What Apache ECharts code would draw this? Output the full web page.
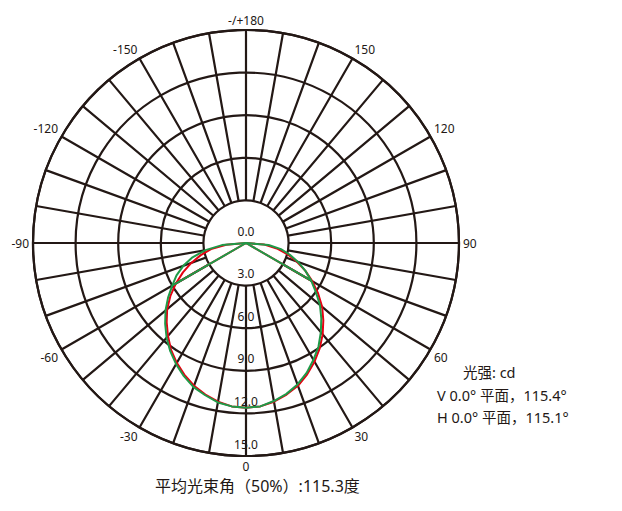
<!DOCTYPE html>
<html>
<head>
<meta charset="utf-8">
<script src="https://cdn.jsdelivr.net/npm/echarts/dist/echarts.min.js"></script>
<style>
html,body{margin:0;padding:0;background:#fff;}
#chart{width:622px;height:511px;}
</style>
</head>
<body>
<div id="chart"></div>
<script>
// ---- data ----
const angles = [-90,-85,-80,-75,-70,-65,-60,-55,-50,-45,-40,-35,-30,-25,-20,-15,-10,-5,0,5,10,15,20,25,30,35,40,45,50,55,60,65,70,75,80,85,90];
// V 0.0° plane (red), cd
const vPlane = [0,1.4,2.5,3.3,4.1,4.9,5.7,6.5,7.25,7.9,8.55,9.2,9.75,10.25,10.7,11.05,11.35,11.55,11.6,11.55,11.35,11.05,10.7,10.2,9.65,9.05,8.4,7.7,7.0,6.2,5.4,4.6,3.8,3.0,2.2,1.3,0];
// H 0.0° plane (green), cd
const hPlane = [0,1.7,2.9,3.9,4.7,5.4,6.0,6.7,7.4,8.05,8.7,9.3,9.85,10.35,10.8,11.1,11.4,11.55,11.6,11.55,11.3,11.0,10.6,10.1,9.5,8.9,8.2,7.5,6.8,6.0,5.3,4.6,3.9,3.2,2.5,1.6,0];
// chords drawn from the pole to these angles
const chordAngles = [-60, 60];
// radial scale
const radialMax = 15;
const radialStep = 3;
const holeValue = 3;
// angular scale
const angleGridStep = 10;
const angleLabelStep = 30;
// texts
const beamText = '平均光束角（50%）:115.3度';
const unitText = '光强: cd';
const vText = 'V 0.0° 平面，115.4°';
const hText = 'H 0.0° 平面，115.1°';

const INK = '#231815';
const FONT = "'Noto Sans','Noto Sans CJK SC',sans-serif";

function toPolar(vals) {
  return angles.map((a, i) => [vals[i], (a + 360) % 360]);
}
function chord(vals) {
  const pts = [];
  const iL = angles.indexOf(chordAngles[0]);
  const iR = angles.indexOf(chordAngles[1]);
  pts.push([vals[iL], (chordAngles[0] + 360) % 360]);
  pts.push([0, 0]);
  pts.push([vals[iR], chordAngles[1]]);
  return pts;
}

const chart = echarts.init(document.getElementById('chart'), null, {renderer: 'svg'});
function txt(text, left, top, size) {
  return {text: text, left: left, top: top, padding: 0,
    textStyle: {fontFamily: FONT, fontWeight: 'normal', color: INK, fontSize: size, lineHeight: size + 1}};
}
chart.setOption({
  animation: false,
  title: [
    txt(beamText, 155, 477, 16),
    txt(unitText, 463, 364, 14.5),
    txt(vText, 437, 387, 14.5),
    txt(hText, 437, 409, 14.5)
  ],
  polar: {center: [246, 243], radius: 213},
  angleAxis: {
    type: 'value', min: 0, max: 360, interval: angleGridStep,
    startAngle: 270, clockwise: false, z: 0,
    axisLine: {show: true, lineStyle: {color: INK, width: 2.2}},
    axisTick: {show: false},
    splitLine: {show: true, lineStyle: {color: INK, width: 2.2}},
    axisLabel: {
      margin: 4, fontSize: 12, lineHeight: 12, color: INK, fontFamily: FONT,
      formatter: function (v) {
        if (v % angleLabelStep !== 0 || v === 360) return '';
        if (v === 180) return '-/+180';
        return String(v > 180 ? v - 360 : v);
      }
    }
  },
  radiusAxis: {
    type: 'value', min: 0, max: radialMax, interval: radialStep, z: 2,
    axisLine: {show: false}, axisTick: {show: false},
    splitLine: {show: true, lineStyle: {color: INK, width: 2.2}},
    axisLabel: {
      margin: 0, align: 'center', verticalAlign: 'bottom', padding: [0, 0, 6, 0],
      fontSize: 12, color: INK, fontFamily: FONT,
      formatter: v => v.toFixed(1)
    }
  },
  series: [
    {
      type: 'custom', coordinateSystem: 'polar', z: 1, silent: true,
      data: [[holeValue, 0]],
      renderItem: function (params, api) {
        const c = api.coord([0, 0]);
        const p = api.coord([api.value(0), api.value(1)]);
        const r = Math.hypot(p[0] - c[0], p[1] - c[1]);
        return {type: 'circle', shape: {cx: c[0], cy: c[1], r: r}, style: {fill: '#fff', stroke: null}};
      }
    },
    {type: 'line', coordinateSystem: 'polar', z: 3, data: toPolar(vPlane), showSymbol: false, symbol: 'none',
      lineStyle: {color: '#e60012', width: 2}},
    {type: 'line', coordinateSystem: 'polar', z: 3, data: chord(vPlane), showSymbol: false, symbol: 'none',
      lineStyle: {color: '#e60012', width: 2}},
    {type: 'line', coordinateSystem: 'polar', z: 3, data: toPolar(hPlane), showSymbol: false, symbol: 'none',
      lineStyle: {color: '#1f9a48', width: 2}},
    {type: 'line', coordinateSystem: 'polar', z: 3, data: chord(hPlane), showSymbol: false, symbol: 'none',
      lineStyle: {color: '#1f9a48', width: 2}}
  ]
});
</script>
</body>
</html>
